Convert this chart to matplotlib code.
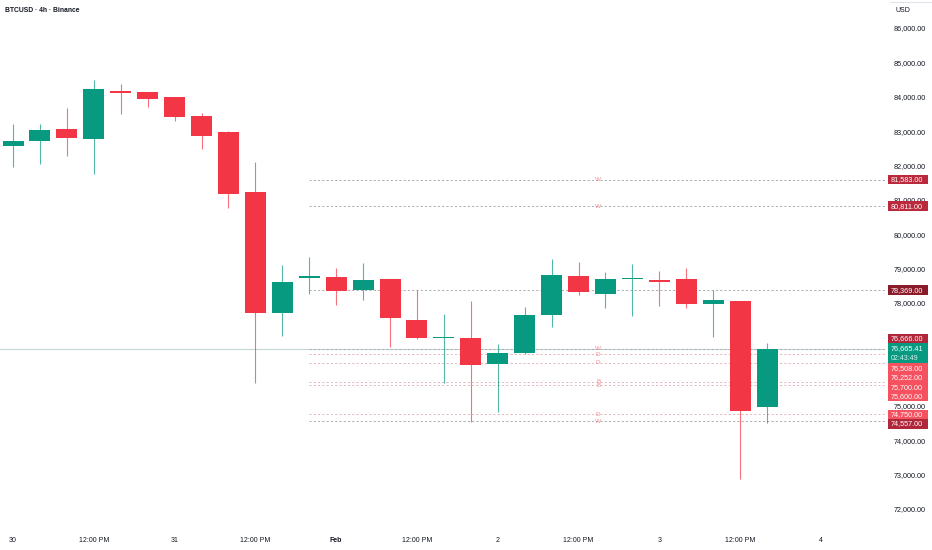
import matplotlib
matplotlib.use('Agg')
import matplotlib.pyplot as plt
from matplotlib.patches import Rectangle
from matplotlib.transforms import blended_transform_factory

plt.rcParams['font.family'] = ['Liberation Sans', 'DejaVu Sans']

# 4h candles, Jan 30 00:00 onward
opens = [82565, 82702, 83050, 82760, 84157, 84128, 83991, 83447, 82972, 81226,
         77703, 78720, 78751, 78373, 78684, 77499, 76970, 76966, 76218, 76530,
         77645, 78780, 78265, 78680, 78664, 78693, 77974, 78052, 74958]
highs = [83205, 83205, 83671, 84486, 84370, 84150, 84000, 83517, 83010, 82099,
         79100, 79342, 79013, 79167, 78700, 78373, 77674, 78061, 76792, 77869,
         79266, 79188, 78897, 79130, 78926, 79013, 78373, 78060, 76821]
lows = [81962, 82041, 82282, 81750, 83506, 83709, 83293, 82469, 80751, 75656,
        77042, 78247, 77927, 78082, 76722, 76950, 75656, 74539, 74830, 76520,
        77287, 78227, 77857, 77607, 77916, 77857, 77013, 72879, 74509]
closes = [82702, 83040, 82789, 84215, 84108, 83933, 83409, 82856, 81159, 77703,
          78605, 78760, 78352, 78664, 77557, 76966, 77000, 76189, 76539, 77645,
          78800, 78306, 78684, 78700, 78614, 77974, 78073, 74841, 76665.41]

xtick_pos = [0, 3, 6, 9, 12, 15, 18, 21, 24, 27, 30]
xtick_labels = ['30', '12:00 PM', '31', '12:00 PM', 'Feb', '12:00 PM',
                '2', '12:00 PM', '3', '12:00 PM', '4']
yticks = list(range(72000, 86001, 1000))

# key levels drawn from candle 11 onward
levels = [81583, 80811, 78369, 76666, 76508, 76252, 75700, 75600, 74750, 74557]
level_tags = ['W', 'W', 'W', 'W', 'D', 'D', 'B', 'B', 'D', 'W']
level_colors = ['#bb2a3c', '#bb2a3c', '#8a1c2a', '#b0263a', '#f5515f',
                '#f5515f', '#f5515f', '#f5515f', '#f5515f', '#b0263a']
last_price = 76665.41
countdown = '02:43:49'

GREEN = '#089981'
RED = '#f23645'
TXT = '#131722'

fig = plt.figure(figsize=(9.32, 5.5), dpi=100)
ax = fig.add_axes([0, 20 / 550, 885 / 932, 530 / 550])
ax.set_xlim(-0.483, 32.38)
ax.set_ylim(71386, 86815)
for s in ax.spines.values():
    s.set_visible(False)

ypix = 530 / (86815 - 71386)   # pixels per price unit

# candles
for i in range(len(opens)):
    o, h, l, c = opens[i], highs[i], lows[i], closes[i]
    col = GREEN if c >= o else RED
    ax.vlines(i, l, h, color=col, lw=0.8, alpha=0.7, zorder=3)
    lo = min(o, c)
    hgt = max(abs(c - o), 1.6 / ypix)
    ax.add_patch(Rectangle((i - 0.39, lo), 0.78, hgt, facecolor=col,
                           edgecolor='none', zorder=4))

# level lines + tags (tags sit under candles)
for lv, tag in zip(levels, level_tags):
    lc = '#a9acb4' if tag == 'W' else '#e6b7bc'
    ax.plot([11, 32.38], [lv, lv], color=lc, lw=0.7, ls=(0, (2.2, 2.2)),
            zorder=2)
    ax.text(21.73, lv, tag, color='#f08f99', fontsize=4.6, ha='center',
            va='center', zorder=2.5)

# current price line
ax.axhline(last_price, color='#c5d6d8', lw=0.8, zorder=1)

ax.set_xticks(xtick_pos)
ax.set_xticklabels(xtick_labels)
for t in ax.get_xticklabels():
    if t.get_text() == 'Feb':
        t.set_fontweight('bold')
ax.tick_params(axis='x', length=0, pad=5, labelsize=5, labelcolor=TXT)

# right-side price labels, stacked so they do not overlap
tr = blended_transform_factory(ax.transAxes, ax.transData)
box_h = 9.5 / ypix
cur_top = last_price + 5.2 / ypix
cur_bot = cur_top - 20 / ypix
bx, bw = 888 / 885, 40 / 885
tx = 891 / 885

placed = []
edge = cur_top
for lv, col in sorted([p for p in zip(levels, level_colors) if p[0] >= last_price],
                      key=lambda p: p[0]):
    bot = max(lv - box_h / 2, edge)
    placed.append((bot, lv, col))
    edge = bot + box_h
edge = cur_bot
for lv, col in sorted([p for p in zip(levels, level_colors) if p[0] < last_price],
                      key=lambda p: -p[0]):
    bot = min(lv - box_h / 2, edge - box_h)
    placed.append((bot, lv, col))
    edge = bot

# price scale: ticks hidden behind a label box are left out
spans = [(b, b + box_h) for b, _, _ in placed] + [(cur_bot, cur_top)]
shown = [v for v in yticks if not any(a <= v <= b for a, b in spans)]
ax.yaxis.tick_right()
ax.set_yticks(shown)
ax.set_yticklabels([f'{v:,.2f}' for v in shown])
ax.tick_params(axis='y', length=0, pad=6, labelsize=5.2, labelcolor=TXT)

for bot, lv, col in placed:
    ax.add_patch(Rectangle((bx, bot), bw, box_h, transform=tr, facecolor=col,
                           edgecolor='none', clip_on=False, zorder=6))
    ax.text(tx, bot + box_h / 2, f'{lv:,.2f}', transform=tr, color='white',
            fontsize=5.2, ha='left', va='center', clip_on=False, zorder=7)

ax.add_patch(Rectangle((bx, cur_bot), bw, cur_top - cur_bot, transform=tr,
                       facecolor=GREEN, edgecolor='none', clip_on=False, zorder=6))
ax.text(tx, last_price, f'{last_price:,.2f}', transform=tr, color='white',
        fontsize=5.2, ha='left', va='center', clip_on=False, zorder=7)
ax.text(tx, last_price - 9.5 / ypix, countdown, transform=tr, color='#d8f0ec',
        fontsize=5.0, ha='left', va='center', clip_on=False, zorder=7)

fig.text(5 / 932, 1 - 10 / 550, 'BTCUSD · 4h · Binance', fontsize=4.9,
         fontweight='bold', color=TXT, va='center')
fig.text(895 / 932, 1 - 10 / 550, 'USD', fontsize=5, color=TXT, va='center')
fig.add_artist(plt.Line2D([890 / 932, 1], [1 - 2 / 550, 1 - 2 / 550],
                          color='#e0e3eb', lw=0.8))

fig.savefig('out.png', dpi=100)
